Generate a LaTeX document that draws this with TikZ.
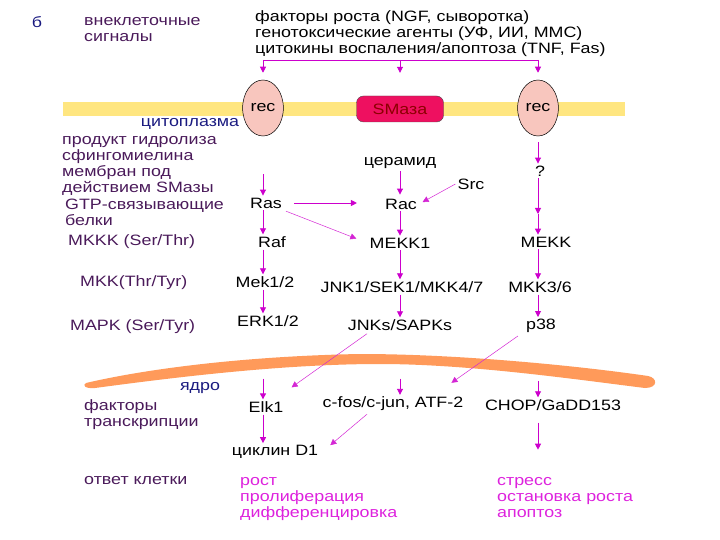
\documentclass[tikz,border=0pt]{standalone}
\usepackage{fontspec}
\setmainfont[FakeStretch=1.19]{Liberation Sans}
\usetikzlibrary{arrows.meta,shapes.geometric,calc}
\definecolor{arrc}{HTML}{CC00CC}
\definecolor{lab}{HTML}{4A1A5A}
\definecolor{navyc}{HTML}{1A1A80}
\definecolor{memb}{HTML}{FFE680}
\definecolor{recf}{HTML}{F8C6BE}
\definecolor{smaf}{HTML}{EE1060}
\definecolor{nuc}{HTML}{FF9A5A}
\definecolor{resp}{HTML}{DD22DD}
\tikzset{
  txt/.style={font=\fontsize{15}{16}\selectfont, inner sep=2pt},
  lbl/.style={txt, anchor=west, align=left, text=lab},
  arr/.style={draw=arrc, line width=0.9pt, -{Triangle[length=6pt,width=6pt]}},
  darr/.style={draw=arrc!85, line width=0.5pt, -{Triangle[length=6pt,width=6pt]}},
  recep/.style={ellipse, draw=black, line width=0.5pt, fill=recf, minimum width=32pt, minimum height=56pt, inner sep=0pt, txt},
}
\begin{document}
\begin{tikzpicture}[x=1pt,y=-1pt]
\useasboundingbox (0,0) rectangle (720,540);
% labels on the left
\node[txt,text=navyc] (b) at (37,22) {б};
\node[lbl] (ext) at (82,30) {внеклеточные\\сигналы};
\node[txt,anchor=west,align=left] (sig) at (253,34) {факторы роста (NGF, сыворотка)\\генотоксические агенты (УФ, ИИ, MMC)\\цитокины воспаления/апоптоза (TNF, Fas)};
% membrane
\fill[memb] (63,102) rectangle (625,116);
\node[recep] (rec1) at (263,108) {rec};
\node[recep] (rec2) at (538,108) {rec};
\node[txt, rounded corners=7pt, draw=black!70, fill=smaf, minimum width=87pt, minimum height=26pt, text=red!55!black] (sma) at (400,109) {SMаза};
\node[txt,text=navyc] (cyto) at (190,124) {цитоплазма};
% bracket
\coordinate (bl) at (263,60);
\coordinate (bm) at (400,60);
\coordinate (br) at (538,60);
\draw[arrc, line width=0.9pt] (bl) -- (br);
\draw[arr, shorten >=7pt] (bl) -- (rec1.north);
\draw[arr, shorten >=23pt] (bm) -- (sma.north);
\draw[arr, shorten >=7pt] (br) -- (rec2.north);
% left labels
\node[lbl] (prod) at (60,166) {продукт гидролиза\\сфингомиелина\\мембран под\\действием SMазы};
\node[lbl] (gtp) at (63,212) {GTP-связывающие\\белки};
\node[lbl] (mkkk) at (66,242) {MKKK (Ser/Thr)};
\node[lbl] (mkk) at (78,283) {MKK(Thr/Tyr)};
\node[lbl] (mapk) at (68,327) {MAPK (Ser/Tyr)};
% pathway nodes
\node[txt] (cer) at (400,163) {церамид};
\node[txt] (ras) at (266,203) {Ras};
\node[txt] (rac) at (401,204) {Rac};
\node[txt] (src) at (471,184) {Src};
\node[txt] (q) at (540,171) {?};
\coordinate (qm) at (538,206);
\node[txt] (raf) at (272,242) {Raf};
\node[txt] (mekk1) at (400,243) {MEKK1};
\node[txt] (mekk) at (546,242) {MEKK};
\node[txt] (mek) at (265,282) {Mek1/2};
\node[txt] (jnk1) at (402,287) {JNK1/SEK1/MKK4/7};
\node[txt] (mkk36) at (540,287) {MKK3/6};
\node[txt] (erk) at (268,321) {ERK1/2};
\node[txt] (jnks) at (400,325) {JNKs/SAPKs};
\node[txt] (p38) at (541,326) {p38};
% arrows cytoplasm
\draw[arr, shorten <=38pt] (rec1.south) -- (ras.north -| rec1);
\draw[arr, shorten >=2pt] (cer.south) -- (rac.north -| cer);
\draw[arr, shorten <=10pt, shorten >=26pt] (ras.east) -- (rac.west |- ras);
\draw[darr, shorten >=4pt] (src.west) -- (rac.east);
\draw[darr, shorten <=2pt, shorten >=12pt] (ras.south east) -- (mekk1.west);
\draw[arr, shorten <=6pt] (rec2.south) -- (q.north -| rec2);
\draw[arr] (q.south -| rec2) -- ([yshift=-8pt]qm);
\draw[arr, shorten <=8pt] (qm) -- (mekk.north -| rec2);
\draw[arr] (ras.south -| rec1) -- (raf.north -| rec1);
\draw[arr] (rac.south -| cer) -- (mekk1.north -| cer);
\draw[arr] (raf.south -| rec1) -- (mek.north -| rec1);
\draw[arr] (mekk1.south -| cer) -- (jnk1.north -| cer);
\draw[arr] (mekk.south -| rec2) -- (mkk36.north -| rec2);
\draw[arr] (mek.south -| rec1) -- (erk.north -| rec1);
\draw[arr] (jnk1.south -| cer) -- (jnks.north -| cer);
\draw[arr] (mkk36.south -| rec2) -- (p38.north -| rec2);
% nucleus envelope
\fill[nuc] (86,383) .. controls (150,368) and (250,356) .. (360,354) .. controls (460,354) and (580,366) .. (648,376) .. controls (658,378) and (658,388) .. (645,388) .. controls (580,380) and (470,364) .. (380,364) .. controls (280,364) and (170,378) .. (95,388) .. controls (85,389) and (82,385) .. (86,383) -- cycle;
\node[txt,text=navyc] (yadro) at (200,388) {ядро};
\node[lbl] (tf) at (82,415) {факторы\\транскрипции};
\node[txt] (elk) at (266,407) {Elk1};
\node[txt] (cfos) at (393,404) {c-fos/c-jun, ATF-2};
\node[txt] (chop) at (553,405) {CHOP/GaDD153};
\node[txt] (cyc) at (275,452) {циклин D1};
\node[lbl] (otv) at (82,481) {ответ клетки};
\node[txt,anchor=west,align=left,text=resp] (r1) at (238,499) {рост\\пролиферация\\дифференцировка};
\node[txt,anchor=west,align=left,text=resp] (r2) at (495,498) {стресс\\остановка роста\\апоптоз};
% arrows nucleus
\draw[arr, shorten <=50pt] (erk.south -| rec1) -- (elk.north -| rec1);
\draw[arr, shorten <=46pt] (jnks.south -| cer) -- (cfos.north -| cer);
\draw[arr, shorten <=46pt] (p38.south -| rec2) -- (chop.north -| rec2);
\draw[darr] ($(jnks.south)+(-33,1)$) -- ($(elk.north east)+(6,-12)$);
\draw[darr] ($(p38.south west)+(-6,1)$) -- ($(cfos.north east)+(-14,-12)$);
\draw[arr] (elk.south -| rec1) -- (cyc.north -| rec1);
\draw[darr] ($(cfos.south)+(-26,1)$) -- ($(cyc.north east)+(10,2)$);
\draw[arr, shorten <=10pt, shorten >=26pt] (chop.south -| rec2) -- (r2.north -| rec2);
\end{tikzpicture}
\end{document}
